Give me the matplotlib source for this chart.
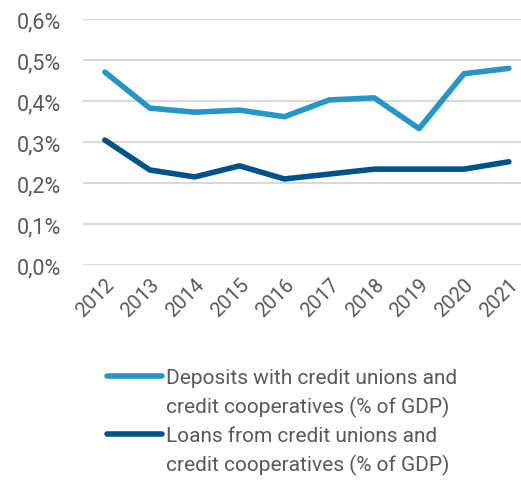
import numpy as np
import matplotlib.pyplot as plt
from matplotlib.ticker import FuncFormatter
from matplotlib.lines import Line2D

years = [2012, 2013, 2014, 2015, 2016, 2017, 2018, 2019, 2020, 2021]
deposits = [0.471, 0.383, 0.373, 0.378, 0.362, 0.403, 0.408, 0.333, 0.467, 0.480]
loans = [0.305, 0.232, 0.215, 0.242, 0.210, 0.222, 0.234, 0.234, 0.234, 0.252]
yticks = [0.0, 0.1, 0.2, 0.3, 0.4, 0.5, 0.6]
labels = [['Deposits with credit unions and', 'credit cooperatives (% of GDP)'],
          ['Loans from credit unions and', 'credit cooperatives (% of GDP)']]
colors = ['#2596c8', '#00528a']

plt.rcParams['font.family'] = ['Roboto', 'DejaVu Sans']
grey = '#595959'

fig = plt.figure(figsize=(5.21, 4.81), dpi=100)
ax = fig.add_axes([0.159, 0.447, 0.841, 0.511])

for vals, c in zip([deposits, loans], colors):
    ax.plot(years, vals, color=c, lw=4, solid_capstyle='round', solid_joinstyle='round')

ax.set_ylim(0, 0.6)
ax.set_xlim(2011.51, 2021.27)
ax.set_yticks(yticks)
ax.yaxis.set_major_formatter(FuncFormatter(lambda v, p: ('%.1f%%' % v).replace('.', ',')))
ax.set_xticks(years)
ax.set_xticklabels([str(y) for y in years], rotation=45, ha='right', rotation_mode='anchor')
ax.tick_params(length=0, colors=grey, labelsize=15.5)
ax.tick_params(axis='x', labelsize=14.5, pad=7)
ax.tick_params(axis='y', pad=16)
ax.grid(axis='y', color='#d9d9d9', lw=1.5)
ax.set_axisbelow(True)
for s in ax.spines.values():
    s.set_visible(False)

# legend: handle sits next to the first line of each label
handles, texts = [], []
for lab, c in zip(labels, colors):
    handles.append(Line2D([], [], color=c, lw=4, solid_capstyle='round'))
    texts.append(lab[0])
    handles.append(Line2D([], [], color='none'))
    texts.append(lab[1])
leg = fig.legend(handles, texts, loc='upper left', bbox_to_anchor=(0.205, 0.232), frameon=False,
                 fontsize=15, handlelength=2.65, handletextpad=0.2, labelspacing=0.43,
                 borderaxespad=0, borderpad=0)
for t in leg.get_texts():
    t.set_color(grey)

fig.savefig('out.png', dpi=100)
